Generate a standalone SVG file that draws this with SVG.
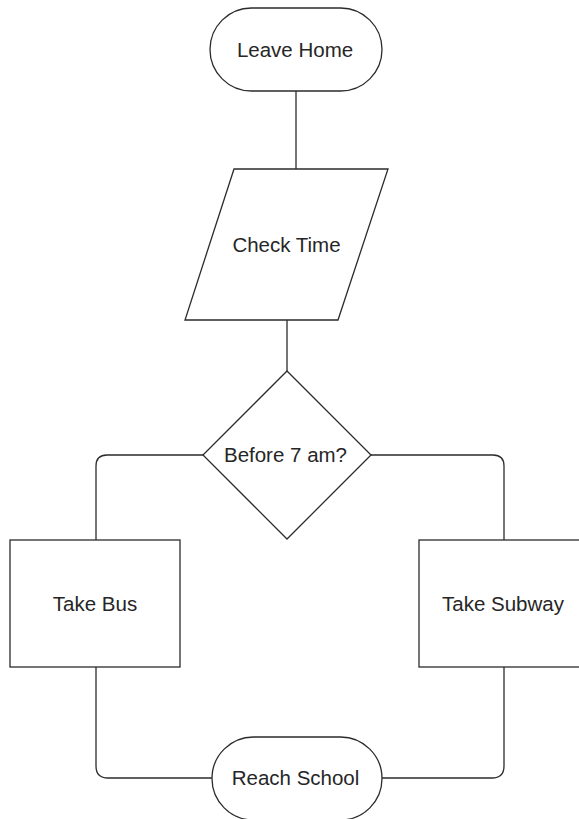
<svg xmlns="http://www.w3.org/2000/svg" width="579" height="819" viewBox="0 0 579 819">
<style>
.s{fill:#fff;stroke:#2b2b2b;stroke-width:1.3}
.c{fill:none;stroke:#2b2b2b;stroke-width:1.3}
text{font-family:"Liberation Sans",Arial,sans-serif;font-size:20.5px;fill:#262626;text-anchor:middle}
</style>
<rect width="579" height="819" fill="#fff"/>
<g id="connectors">
<path class="c" d="M296,91 V169"/>
<path class="c" d="M287,320 V371"/>
<path class="c" d="M203,455 H107 Q96,455 96,466 V540"/>
<path class="c" d="M371,455 H493 Q504,455 504,466 V540"/>
<path class="c" d="M96,667 V766 Q96,778 108,778 H212"/>
<path class="c" d="M504,667 V766 Q504,778 492,778 H382"/>
</g>
<g id="leave-home">
<rect class="s" x="210" y="8" width="172" height="83" rx="41.5"/>
<text x="295" y="57">Leave Home</text>
</g>
<g id="check-time">
<polygon class="s" points="234,169 388,169 338,320 185,320"/>
<text x="286.5" y="252">Check Time</text>
</g>
<g id="before-7">
<polygon class="s" points="287,371 371,455 287,539 203,455"/>
<text x="285.5" y="462">Before 7 am?</text>
</g>
<g id="take-bus">
<rect class="s" x="10" y="540" width="170" height="127"/>
<text x="95" y="611">Take Bus</text>
</g>
<g id="take-subway">
<rect class="s" x="419" y="540" width="170" height="127"/>
<text x="503" y="611">Take Subway</text>
</g>
<g id="reach-school">
<rect class="s" x="212" y="737" width="170" height="83" rx="41.5"/>
<text x="295.5" y="785">Reach School</text>
</g>
</svg>
